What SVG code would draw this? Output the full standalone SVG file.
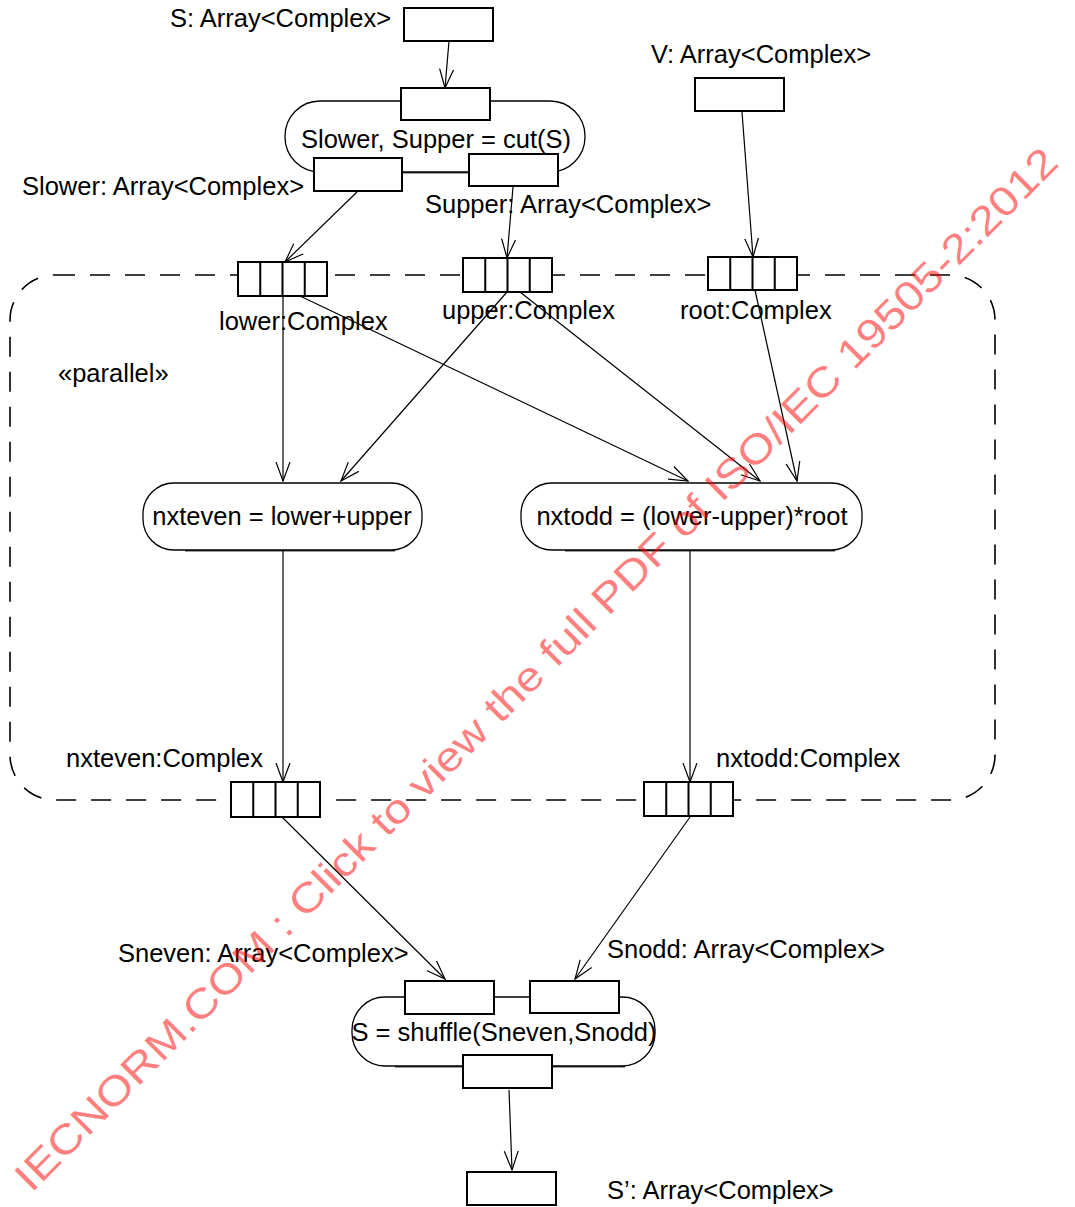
<svg xmlns="http://www.w3.org/2000/svg" width="1075" height="1207" viewBox="0 0 1075 1207">
  <style>
    text { font-family: "Liberation Sans", Arial, sans-serif; font-size: 25.5px; fill: #000; }
    .pin { fill: #fff; stroke: #000; stroke-width: 2; }
    .act { fill: #fff; stroke: #000; stroke-width: 1.3; }
    .shadow { fill: none; stroke: #000; stroke-width: 1.6; stroke-opacity: 0.75; }
    .flow { fill: none; stroke: #000; stroke-width: 1.2; marker-end: url(#open); }
    .region { fill: none; stroke: #000; stroke-width: 1.6; stroke-dasharray: 20 15; }
    .wm { font-size: 41px; fill: #ff0000; fill-opacity: 0.5; }
  </style>
  <defs>
    <marker id="open" viewBox="0 0 20 16" refX="19" refY="8" markerWidth="20" markerHeight="16" markerUnits="userSpaceOnUse" orient="auto">
      <path d="M0,1 L19,8 L0,15" fill="none" stroke="#000" stroke-width="1.2"/>
    </marker>
  </defs>
  <rect width="1075" height="1207" fill="#fff"/>

  <!-- expansion region -->
  <g id="expansion-region">
    <rect class="region" x="10" y="275" width="985" height="525" rx="45" ry="45"/>
    <text x="58" y="382">«parallel»</text>
  </g>

  <!-- connectors -->
  <g id="connectors">
    <line class="flow" x1="449" y1="41" x2="445" y2="88"/>
    <line class="flow" x1="357" y1="192" x2="285" y2="262"/>
    <line class="flow" x1="513" y1="187" x2="507" y2="258"/>
    <line class="flow" x1="742" y1="112" x2="753" y2="257"/>
    <line class="flow" x1="283" y1="296" x2="283" y2="481"/>
    <line class="flow" x1="300" y1="296" x2="688" y2="481"/>
    <line class="flow" x1="507" y1="292" x2="341" y2="481"/>
    <line class="flow" x1="520" y1="292" x2="760" y2="481"/>
    <line class="flow" x1="755" y1="290" x2="797" y2="481"/>
    <line class="flow" x1="283" y1="551" x2="283" y2="782"/>
    <line class="flow" x1="690" y1="551" x2="690" y2="782"/>
    <line class="flow" x1="282" y1="817" x2="445" y2="979"/>
    <line class="flow" x1="690" y1="817" x2="575" y2="979"/>
    <line class="flow" x1="509" y1="1090" x2="512" y2="1170"/>
  </g>

  <!-- input S -->
  <g id="pin-S">
    <rect class="pin" x="404" y="8" width="89" height="33"/>
    <text x="170" y="27">S: Array&lt;Complex&gt;</text>
  </g>

  <!-- cut action -->
  <g id="action-cut">
    <path class="shadow" d="M330,172.8 H555"/>
    <rect class="act" x="285" y="101" width="300" height="71" rx="35" ry="35"/>
    <text x="436" y="148" text-anchor="middle">Slower, Supper = cut(S)</text>
    <rect class="pin" x="401" y="88" width="89" height="32"/>
    <rect class="pin" x="314" y="158" width="88" height="33"/>
    <rect class="pin" x="469" y="154" width="89" height="32"/>
    <text x="22" y="195">Slower: Array&lt;Complex&gt;</text>
    <text x="425" y="213">Supper: Array&lt;Complex&gt;</text>
  </g>

  <!-- input V -->
  <g id="pin-V">
    <rect class="pin" x="695" y="78" width="89" height="33"/>
    <text x="651" y="63">V: Array&lt;Complex&gt;</text>
  </g>

  <!-- expansion nodes (input) -->
  <g id="node-lower">
    <rect class="pin" x="238" y="262" width="89" height="34"/>
    <path d="M260.25,262 V296 M282.5,262 V296 M304.75,262 V296" stroke="#000" stroke-width="2"/>
    <text x="219" y="330">lower:Complex</text>
  </g>
  <g id="node-upper">
    <rect class="pin" x="463" y="258" width="89" height="34"/>
    <path d="M485.25,258 V292 M507.5,258 V292 M529.75,258 V292" stroke="#000" stroke-width="2"/>
    <text x="442" y="319">upper:Complex</text>
  </g>
  <g id="node-root">
    <rect class="pin" x="708" y="257" width="89" height="33"/>
    <path d="M730.25,257 V290 M752.5,257 V290 M774.75,257 V290" stroke="#000" stroke-width="2"/>
    <text x="680" y="319">root:Complex</text>
  </g>

  <!-- actions inside region -->
  <g id="action-nxteven">
    <path class="shadow" d="M185,550.8 H395"/>
    <rect class="act" x="143" y="483" width="279" height="67" rx="31" ry="31"/>
    <text x="282" y="525" text-anchor="middle">nxteven = lower+upper</text>
  </g>
  <g id="action-nxtodd">
    <path class="shadow" d="M565,550.8 H835"/>
    <rect class="act" x="521" y="483" width="341" height="67" rx="31" ry="31"/>
    <text x="692" y="525" text-anchor="middle">nxtodd = (lower-upper)*root</text>
  </g>

  <!-- expansion nodes (output) -->
  <g id="node-nxteven">
    <rect class="pin" x="231" y="782" width="89" height="35"/>
    <path d="M253.25,782 V817 M275.5,782 V817 M297.75,782 V817" stroke="#000" stroke-width="2"/>
    <text x="66" y="767">nxteven:Complex</text>
  </g>
  <g id="node-nxtodd">
    <rect class="pin" x="644" y="782" width="89" height="34"/>
    <path d="M666.25,782 V816 M688.5,782 V816 M710.75,782 V816" stroke="#000" stroke-width="2"/>
    <text x="716" y="767">nxtodd:Complex</text>
  </g>

  <!-- shuffle action -->
  <g id="action-shuffle">
    <path class="shadow" d="M395,1066.8 H625"/>
    <rect class="act" x="352" y="997" width="303" height="69" rx="33" ry="33"/>
    <text x="504" y="1041" text-anchor="middle">S = shuffle(Sneven,Snodd)</text>
    <rect class="pin" x="405" y="981" width="89" height="33"/>
    <rect class="pin" x="530" y="981" width="89" height="32"/>
    <rect class="pin" x="463" y="1055" width="89" height="33"/>
    <text x="118" y="962">Sneven: Array&lt;Complex&gt;</text>
    <text x="607" y="958">Snodd: Array&lt;Complex&gt;</text>
  </g>

  <!-- output S' -->
  <g id="pin-S-out">
    <rect class="pin" x="467" y="1172" width="89" height="33"/>
    <text x="607" y="1199">S’: Array&lt;Complex&gt;</text>
  </g>

  <!-- watermark -->
  <text class="wm" x="546" y="679" text-anchor="middle" textLength="1455" lengthAdjust="spacingAndGlyphs" transform="rotate(-45 546 679)">IECNORM.COM : Click to view the full PDF of ISO/IEC 19505-2:2012</text>
</svg>
